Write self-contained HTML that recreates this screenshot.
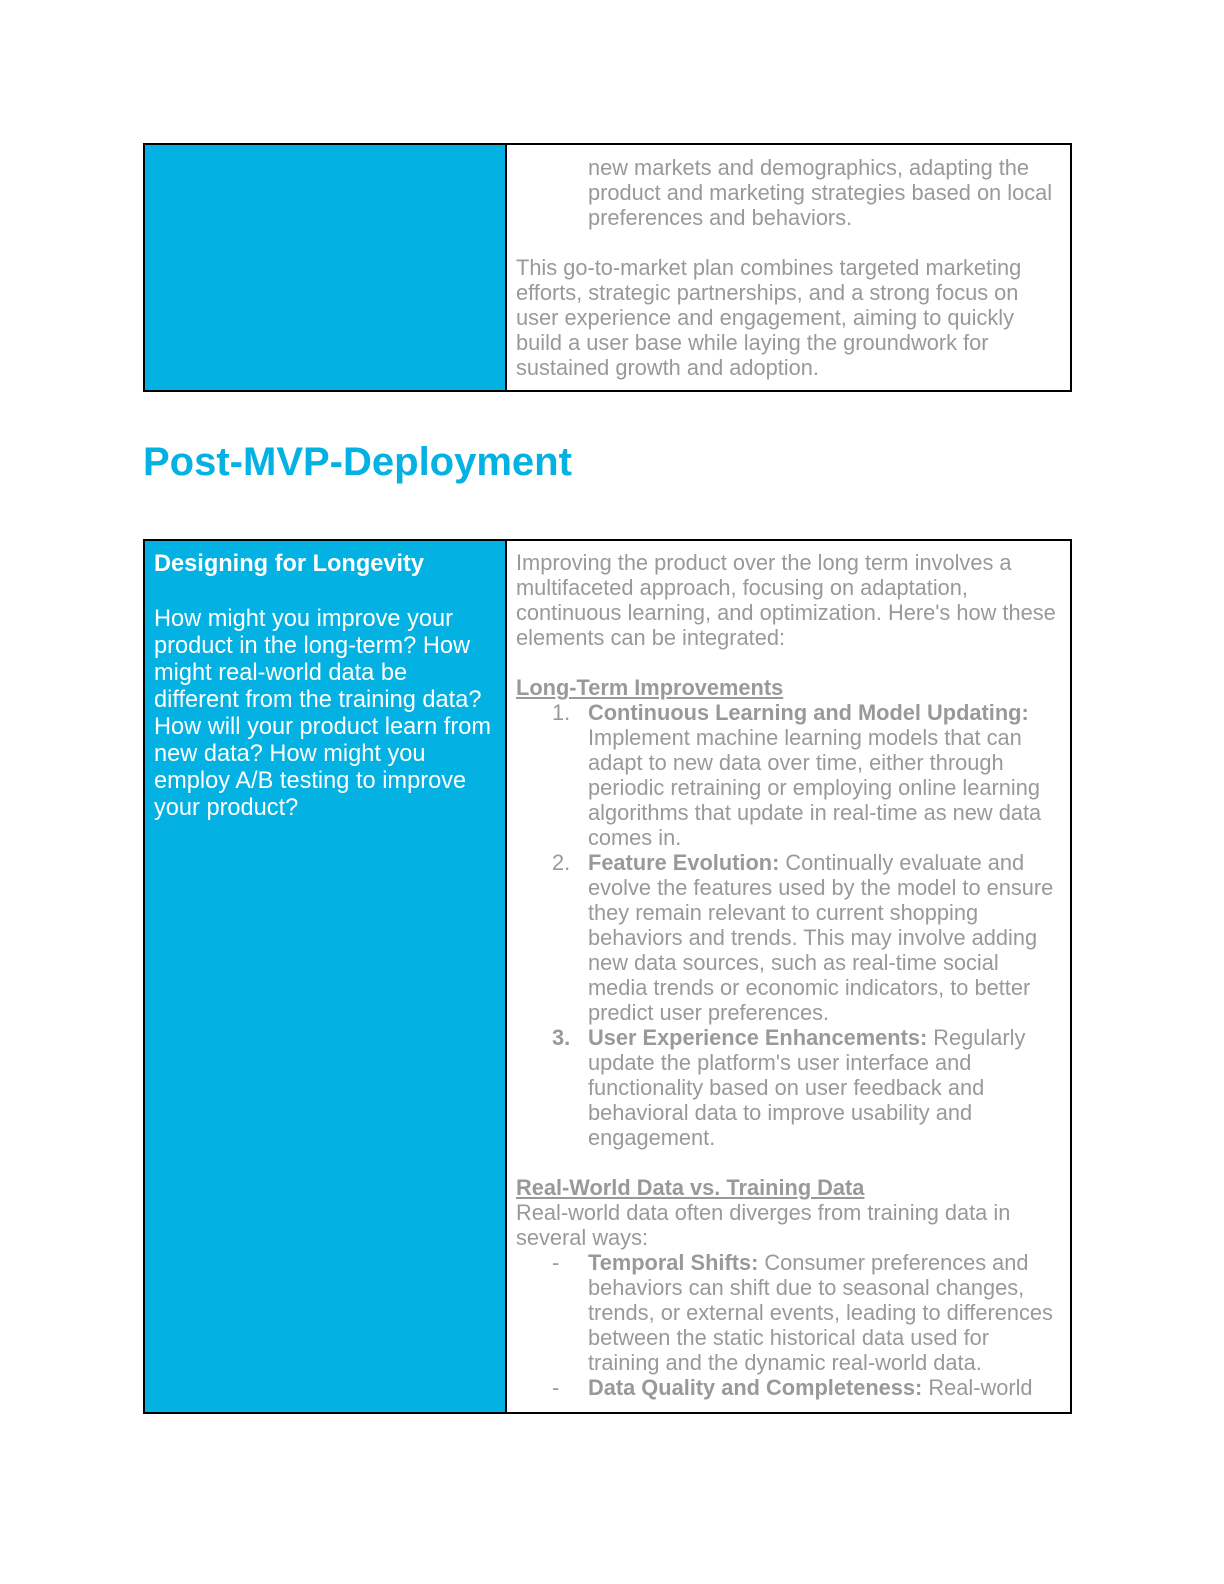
<!DOCTYPE html>
<html><head><meta charset="utf-8"><style>
body{margin:0;width:1224px;height:1584px;background:#fff;position:relative;font-family:"Liberation Sans",Arial,sans-serif;overflow:hidden}
.box{position:absolute;border:2px solid #000;box-sizing:border-box}
.blue{position:absolute;background:#03b1e2}
.vl{position:absolute;background:#000;width:2px}
.l{position:absolute;white-space:nowrap;font-size:21.8px;line-height:25px;color:#999}
.w{position:absolute;white-space:nowrap;font-size:23.6px;line-height:27px;color:#fff}
b{font-weight:bold}
u{text-decoration:underline}
</style></head><body>
<div class="blue" style="left:143px;top:143px;width:363px;height:248px"></div>
<div class="box" style="left:143px;top:143px;width:929px;height:249px"></div>
<div class="vl" style="left:505px;top:143px;height:249px"></div>

<div class="l" style="left:588px;top:155px">new markets and demographics, adapting the</div>
<div class="l" style="left:588px;top:180px">product and marketing strategies based on local</div>
<div class="l" style="left:588px;top:205px">preferences and behaviors.</div>
<div class="l" style="left:516px;top:255px">This go-to-market plan combines targeted marketing</div>
<div class="l" style="left:516px;top:280px">efforts, strategic partnerships, and a strong focus on</div>
<div class="l" style="left:516px;top:305px">user experience and engagement, aiming to quickly</div>
<div class="l" style="left:516px;top:330px">build a user base while laying the groundwork for</div>
<div class="l" style="left:516px;top:355px">sustained growth and adoption.</div>

<div style="position:absolute;left:143px;top:438px;font-size:40px;line-height:48px;font-weight:bold;color:#03b1e2;white-space:nowrap">Post-MVP-Deployment</div>

<div class="blue" style="left:143px;top:539px;width:363px;height:874px"></div>
<div class="box" style="left:143px;top:539px;width:929px;height:875px"></div>
<div class="vl" style="left:505px;top:539px;height:875px"></div>

<div class="w" style="left:154px;top:551px"><b>Designing for Longevity</b></div>
<div class="w" style="left:154px;top:606px">How might you improve your</div>
<div class="w" style="left:154px;top:633px">product in the long-term? How</div>
<div class="w" style="left:154px;top:660px">might real-world data be</div>
<div class="w" style="left:154px;top:687px">different from the training data?</div>
<div class="w" style="left:154px;top:714px">How will your product learn from</div>
<div class="w" style="left:154px;top:741px">new data? How might you</div>
<div class="w" style="left:154px;top:768px">employ A/B testing to improve</div>
<div class="w" style="left:154px;top:795px">your product?</div>

<div class="l" style="left:516px;top:550px">Improving the product over the long term involves a</div>
<div class="l" style="left:516px;top:575px">multifaceted approach, focusing on adaptation,</div>
<div class="l" style="left:516px;top:600px">continuous learning, and optimization. Here's how these</div>
<div class="l" style="left:516px;top:625px">elements can be integrated:</div>
<div class="l" style="left:516px;top:675px"><b><u>Long-Term Improvements</u></b></div>
<div class="l" style="left:552px;top:700px">1.</div>
<div class="l" style="left:588px;top:700px"><b>Continuous Learning and Model Updating:</b></div>
<div class="l" style="left:588px;top:725px">Implement machine learning models that can</div>
<div class="l" style="left:588px;top:750px">adapt to new data over time, either through</div>
<div class="l" style="left:588px;top:775px">periodic retraining or employing online learning</div>
<div class="l" style="left:588px;top:800px">algorithms that update in real-time as new data</div>
<div class="l" style="left:588px;top:825px">comes in.</div>
<div class="l" style="left:552px;top:850px">2.</div>
<div class="l" style="left:588px;top:850px"><b>Feature Evolution:</b> Continually evaluate and</div>
<div class="l" style="left:588px;top:875px">evolve the features used by the model to ensure</div>
<div class="l" style="left:588px;top:900px">they remain relevant to current shopping</div>
<div class="l" style="left:588px;top:925px">behaviors and trends. This may involve adding</div>
<div class="l" style="left:588px;top:950px">new data sources, such as real-time social</div>
<div class="l" style="left:588px;top:975px">media trends or economic indicators, to better</div>
<div class="l" style="left:588px;top:1000px">predict user preferences.</div>
<div class="l" style="left:552px;top:1025px"><b>3.</b></div>
<div class="l" style="left:588px;top:1025px"><b>User Experience Enhancements:</b> Regularly</div>
<div class="l" style="left:588px;top:1050px">update the platform's user interface and</div>
<div class="l" style="left:588px;top:1075px">functionality based on user feedback and</div>
<div class="l" style="left:588px;top:1100px">behavioral data to improve usability and</div>
<div class="l" style="left:588px;top:1125px">engagement.</div>
<div class="l" style="left:516px;top:1175px"><b><u>Real-World Data vs. Training Data</u></b></div>
<div class="l" style="left:516px;top:1200px">Real-world data often diverges from training data in</div>
<div class="l" style="left:516px;top:1225px">several ways:</div>
<div class="l" style="left:552px;top:1250px">-</div>
<div class="l" style="left:588px;top:1250px"><b>Temporal Shifts:</b> Consumer preferences and</div>
<div class="l" style="left:588px;top:1275px">behaviors can shift due to seasonal changes,</div>
<div class="l" style="left:588px;top:1300px">trends, or external events, leading to differences</div>
<div class="l" style="left:588px;top:1325px">between the static historical data used for</div>
<div class="l" style="left:588px;top:1350px">training and the dynamic real-world data.</div>
<div class="l" style="left:552px;top:1375px">-</div>
<div class="l" style="left:588px;top:1375px"><b>Data Quality and Completeness:</b> Real-world</div>
</body></html>
